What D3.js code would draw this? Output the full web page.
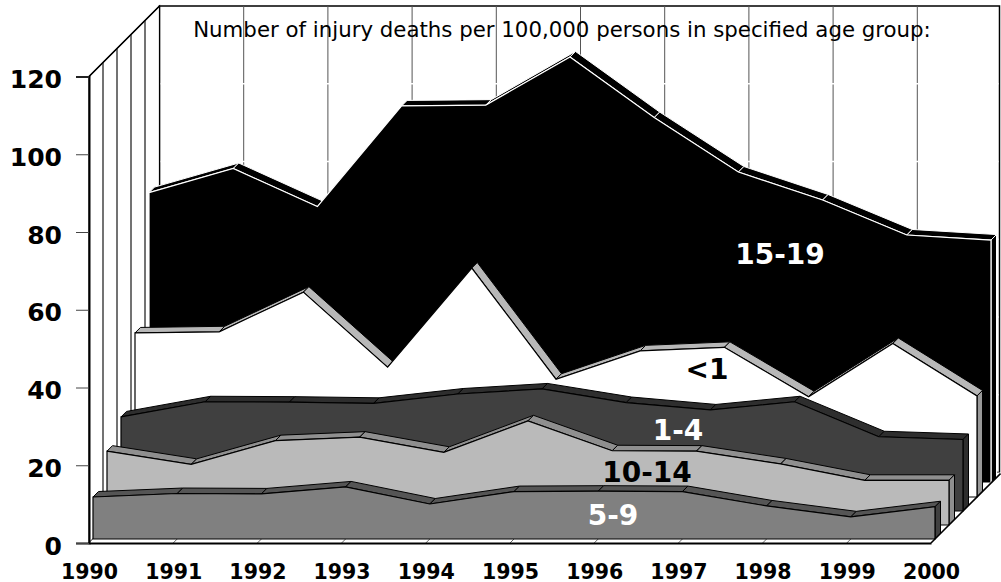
<!DOCTYPE html>
<html>
<head>
<meta charset="utf-8">
<script src="https://cdn.jsdelivr.net/npm/d3@7"></script>
<style>
  body { margin: 0; background: #fff; }
  text { font-family: "DejaVu Sans", Verdana, sans-serif; }
  .big { font-weight: bold; }
</style>
</head>
<body>
<div id="chart"></div>
<script>
const years = [1990, 1991, 1992, 1993, 1994, 1995, 1996, 1997, 1998, 1999, 2000];
const yTicks = [0, 20, 40, 60, 80, 100, 120];

const ages5to9 = [10.8, 11.7, 11.6, 13.4, 9, 12.2, 12.3, 12.2, 8.5, 5.7, 8.3];
const ages10to14 = [19, 15.6, 21.7, 22.6, 18.7, 26.8, 19.1, 19, 15.7, 11.5, 11.5];
const ages1to4 = [24.2, 28.1, 28, 27.7, 30.1, 31.4, 27.9, 26, 28.1, 19.1, 18.4];
const agesUnder1 = [42.2, 42.5, 52.7, 33.4, 58.9, 30.3, 37.6, 38.5, 25.8, 39.5, 26];
const ages15to19 = [74.7, 80.9, 71.1, 97, 97.2, 109.6, 94, 80, 72.8, 63.8, 62.5];

const seriesNames = ['5-9', '10-14', '1-4', '<1', '15-19'];
const seriesValues = [ages5to9, ages10to14, ages1to4, agesUnder1, ages15to19];

const title = 'Number of injury deaths per 100,000 persons in specified age group:';

// styles, front row to back row
const faceColors = ['#808080', '#bababa', '#404040', '#ffffff', '#000000'];
const bevelColors = ['#555555', '#8f8f8f', '#2e2e2e', '#b8b8b8', '#000000'];
const sideColors = ['#404040', '#8f8f8f', '#2e2e2e', '#999999', '#000000'];
const edgeColors = ['#000', '#000', '#000', '#000', '#fff'];
const labelColors = ['#fff', '#000', '#fff', '#000', '#fff'];
const labelX = [613, 647, 678, 707, 780];
const labelY = [525, 482, 440, 379, 264];

const width = 1001, height = 582;
const wallDepth = 70.5;   // how far the back wall sits up and to the right
const rowStep = 14, rowStart = 4, bevel = 5.5;

const x = d3.scaleLinear().domain([1990, 2000]).range([89, 931]);
const y = d3.scaleLinear().domain([0, 120]).range([543, 76.5]);

const svg = d3.select('#chart').append('svg')
    .attr('width', width)
    .attr('height', height);

const pts = a => a.map(p => p.join(',')).join(' ');

// back wall
const top_ = y(120) - wallDepth, floorBack = y(0) - wallDepth;
const backLeft = x(1990) + wallDepth, backRight = x(2000) + wallDepth - 2;

svg.append('rect')
    .attr('x', backLeft).attr('y', top_)
    .attr('width', backRight - backLeft).attr('height', floorBack - top_)
    .attr('fill', '#fff').attr('stroke', '#000').attr('stroke-width', 1.5);

svg.selectAll('.grid-v')
    .data(years.slice(1))
  .join('line')
    .attr('x1', d => x(d) + wallDepth).attr('x2', d => x(d) + wallDepth)
    .attr('y1', top_).attr('y2', floorBack)
    .attr('stroke', '#555');

svg.selectAll('.grid-h')
    .data(yTicks.slice(1, -1))
  .join('line')
    .attr('x1', backLeft + 1).attr('x2', backRight - 1)
    .attr('y1', d => y(d) - wallDepth).attr('y2', d => y(d) - wallDepth)
    .attr('stroke', '#fff').attr('stroke-width', 1.5);

// left wall
svg.append('polygon')
    .attr('points', pts([[x(1990), y(120)], [backLeft, top_], [backLeft, floorBack], [x(1990), y(0)]]))
    .attr('fill', '#fff').attr('stroke', '#000').attr('stroke-width', 1.2);

svg.selectAll('.wall-line')
    .data([1, 2, 3, 4])
  .join('line')
    .attr('x1', d => x(1990) + d * rowStep).attr('x2', d => x(1990) + d * rowStep)
    .attr('y1', d => y(120) - d * rowStep).attr('y2', d => y(0) - d * rowStep)
    .attr('stroke', '#444').attr('stroke-width', 1.5);

// floor
svg.append('polygon')
    .attr('points', pts([[x(1990), y(0)], [backLeft, floorBack], [backRight + 2, floorBack], [x(2000), y(0)]]))
    .attr('fill', '#fff');

svg.selectAll('.floor-line')
    .data(years.slice(1, -1))
  .join('line')
    .attr('x1', d => x(d)).attr('x2', d => x(d) + wallDepth)
    .attr('y1', y(0)).attr('y2', floorBack)
    .attr('stroke', '#666');

// rows, back to front
const order = d3.range(seriesValues.length).reverse();
order.forEach(i => {
  const d0 = rowStart + i * rowStep;
  const vals = seriesValues[i];
  const row = svg.append('g').attr('class', 'row');
  const edge = edgeColors[i];

  const area = d3.area()
      .x((d, j) => x(years[j]) + d0)
      .y0(y(0) - d0)
      .y1(d => y(d) - d0);

  // top bevel, one piece per year
  row.selectAll('.bevel')
      .data(d3.pairs(d3.range(vals.length)))
    .join('polygon')
      .attr('points', ([a, b]) => {
        const xa = x(years[a]) + d0, xb = x(years[b]) + d0;
        const ya = y(vals[a]) - d0, yb = y(vals[b]) - d0;
        return pts([[xa, ya], [xb, yb], [xb + bevel, yb - bevel], [xa + bevel, ya - bevel]]);
      })
      .attr('fill', bevelColors[i])
      .attr('stroke', edge)
      .attr('stroke-linejoin', 'round');

  // right side
  const xEnd = x(2000) + d0, yEnd = y(vals[vals.length - 1]) - d0;
  row.append('polygon')
      .attr('points', pts([[xEnd, yEnd], [xEnd + bevel, yEnd - bevel],
        [xEnd + bevel, y(0) - d0 - bevel], [xEnd, y(0) - d0]]))
      .attr('fill', sideColors[i])
      .attr('stroke', edge);

  // front face
  row.append('path')
      .attr('d', area(vals))
      .attr('fill', faceColors[i])
      .attr('stroke', edge)
      .attr('stroke-width', 1.2);
});

// front edges of the floor, drawn over the rows
svg.append('line')
    .attr('x1', x(2000)).attr('y1', y(0))
    .attr('x2', x(2000) + wallDepth - 1).attr('y2', floorBack + 1)
    .attr('stroke', '#000').attr('stroke-width', 1.6);

svg.append('line')
    .attr('x1', x(1990)).attr('y1', y(120))
    .attr('x2', backLeft).attr('y2', top_)
    .attr('stroke', '#000').attr('stroke-width', 1.2);

// axes
const yAxis = d3.axisLeft(y).tickValues(yTicks).tickSize(13).tickPadding(14);
const yG = svg.append('g').attr('transform', `translate(${x(1990)},0)`).call(yAxis);
yG.select('.domain').attr('stroke', '#000').attr('stroke-width', 2);
yG.selectAll('.tick line').attr('stroke', '#444');
yG.selectAll('.tick text')
    .attr('class', 'big')
    .attr('font-size', 25)
    .attr('fill', '#000')
    .attr('dy', 11);

const xAxis = d3.axisBottom(x).tickValues(years).tickFormat(d3.format('d')).tickSize(0);
const xG = svg.append('g').attr('transform', `translate(0,${y(0)})`).call(xAxis);
xG.select('.domain').attr('stroke', '#000').attr('stroke-width', 2);
xG.selectAll('.tick text')
    .attr('class', 'big')
    .attr('font-size', 20.5)
    .attr('fill', '#000')
    .attr('y', 35.5)
    .attr('dy', 0);

// title and row labels
svg.append('text')
    .attr('x', 562).attr('y', 37)
    .attr('text-anchor', 'middle')
    .attr('font-size', 21.3)
    .attr('fill', '#000')
    .text(title);

svg.selectAll('.row-label')
    .data(seriesNames)
  .join('text')
    .attr('class', 'big')
    .attr('x', (d, i) => labelX[i])
    .attr('y', (d, i) => labelY[i])
    .attr('text-anchor', 'middle')
    .attr('font-size', 28)
    .attr('fill', (d, i) => labelColors[i])
    .text(d => d);
</script>
</body>
</html>
